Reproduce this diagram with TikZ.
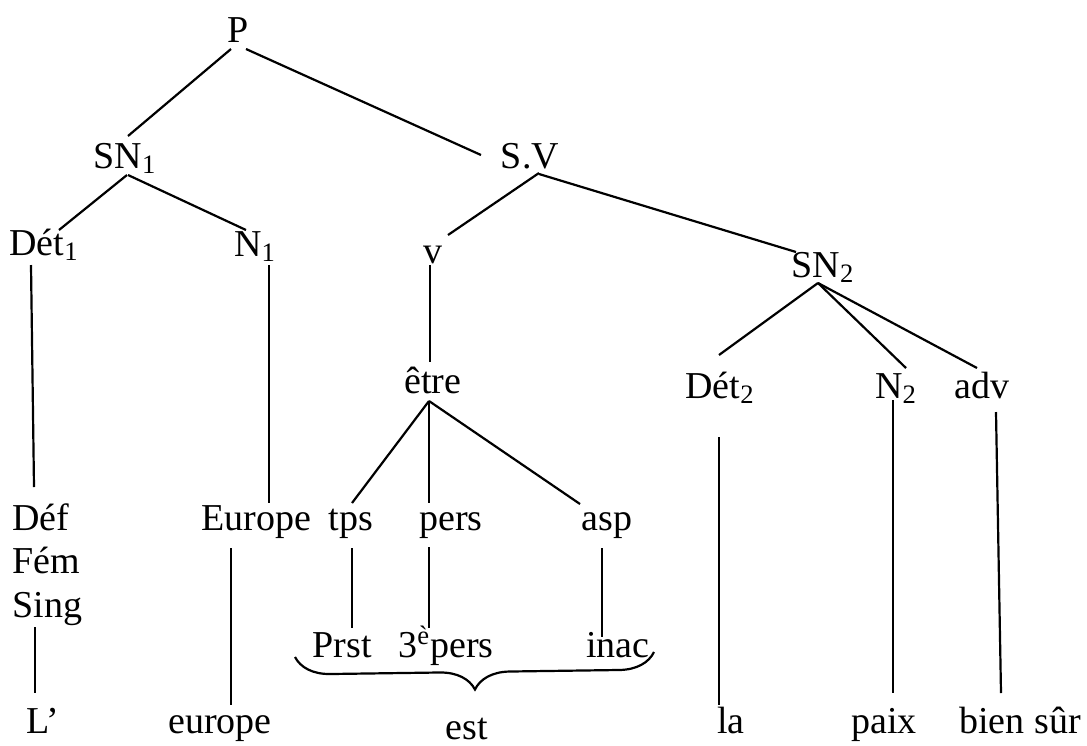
\documentclass[tikz,border=0pt]{standalone}
\usepackage{fontspec}
\setmainfont{Liberation Serif}
\usetikzlibrary{decorations.pathreplacing}

\tikzset{
  word/.style={inner sep=0pt,anchor=base,font=\fontsize{19}{23}\selectfont},
  branch/.style={line width=1.1pt},
  bracket/.style={line width=1.1pt,decorate,
    decoration={brace,mirror,amplitude=17.5pt}}
}

\begin{document}
\begin{tikzpicture}[x=0.5pt,y=-0.5pt]
    \useasboundingbox (0,0) rectangle (1087,745);

    \node [word] (P) at (238,42) {P};
    \node [word] (SN1) at (125,168) {SN\textsubscript{1}};
    \node [word] (SV) at (530,168) {S.V};
    \node [word] (Det1) at (44,255) {Dét\textsubscript{1}};
    \node [word] (N1) at (255,256) {N\textsubscript{1}};
    \node [word] (v) at (433,263) {v};
    \node [word] (SN2) at (823,277) {SN\textsubscript{2}};
    \node [word] (etre) at (433,393) {être};
    \node [word] (Det2) at (720,398) {Dét\textsubscript{2}};
    \node [word] (N2) at (896,398) {N\textsubscript{2}};
    \node [word] (adv) at (982,398) {adv};

    \node [word,anchor=base west] (Def) at (12,530) {Déf};
    \node [word,anchor=base west] (Fem) at (12,573) {Fém};
    \node [word,anchor=base west] (Sing) at (12,617) {Sing};
    \node [word] (Europe) at (256,530) {Europe};
    \node [word] (tps) at (351,530) {tps};
    \node [word] (pers) at (451,530) {pers};
    \node [word] (asp) at (607,530) {asp};

    \node [word] (Prst) at (342,657) {Prst};
    \node [word] (pers3) at (446,657) {3\textsuperscript{è}pers};
    \node [word] (inac) at (618,657) {inac};

    \node [word] (Lap) at (43,733) {L’};
    \node [word] (europe) at (220,733) {europe};
    \node [word] (est) at (467,739) {est};
    \node [word] (la) at (731,733) {la};
    \node [word] (paix) at (884,733) {paix};
    \node [word] (biensur) at (1020,733) {bien sûr};

    \draw [branch] ([shift={(-7,7)}]P.base) -- ([shift={(3,-32)}]SN1.base);
    \draw [branch] ([shift={(8,7)}]P.base) -- ([shift={(-49,-13)}]SV.base);

    \draw [branch] ([shift={(2,7)}]SN1.base) -- ([shift={(15,-25)}]Det1.base);
    \draw [branch] ([shift={(3,7)}]SN1.base) -- ([shift={(-9,-26)}]N1.base);
    \draw [branch] ([shift={(9,5)}]SV.base) -- ([shift={(15,-28)}]v.base);
    \draw [branch] ([shift={(9,6)}]SV.base) -- ([shift={(-27,-25)}]SN2.base);

    \draw [branch] ([shift={(-3,2)}]v.base) -- ([shift={(-3,-31)}]etre.base);
    \draw [branch] ([shift={(-4,8)}]etre.base) -- ([shift={(1,-27)}]tps.base);
    \draw [branch] ([shift={(-4,8)}]etre.base) -- ([shift={(-22,-27)}]pers.base);
    \draw [branch] ([shift={(-4,8)}]etre.base) -- ([shift={(-27,-26)}]asp.base);

    \draw [branch] ([shift={(-5,6)}]SN2.base) -- ([shift={(-1,-43)}]Det2.base);
    \draw [branch] ([shift={(-5,6)}]SN2.base) -- ([shift={(10,-30)}]N2.base);
    \draw [branch] ([shift={(-5,6)}]SN2.base) -- ([shift={(-5,-30)}]adv.base);

    \draw [branch] ([shift={(-13,10)}]Det1.base) -- ([shift={(22,-43)}]Def.base west);
    \draw [branch] ([shift={(14,9)}]N1.base) -- ([shift={(13,-27)}]Europe.base);
    \draw [branch] ([shift={(1,18)}]tps.base) -- ([shift={(10,-29)}]Prst.base);
    \draw [branch] ([shift={(-22,17)}]pers.base) -- ([shift={(-17,-29)}]pers3.base);
    \draw [branch] ([shift={(-5,18)}]asp.base) -- ([shift={(-16,-20)}]inac.base);

    \draw [branch] ([shift={(-1,39)}]Det2.base) -- ([shift={(-12,-28)}]la.base);
    \draw [branch] ([shift={(-3,2)}]N2.base) -- ([shift={(9,-40)}]paix.base);
    \draw [branch] ([shift={(14,14)}]adv.base) -- ([shift={(-19,-40)}]biensur.base);

    \draw [branch] ([shift={(23,10)}]Sing.base west) -- ([shift={(-8,-40)}]Lap.base);
    \draw [branch] ([shift={(-25,18)}]Europe.base) -- ([shift={(11,-28)}]europe.base);

    \draw [bracket] ([shift={(-47,0)}]Prst.base) -- ([shift={(36,-5)}]inac.base);
\end{tikzpicture}
\end{document}
